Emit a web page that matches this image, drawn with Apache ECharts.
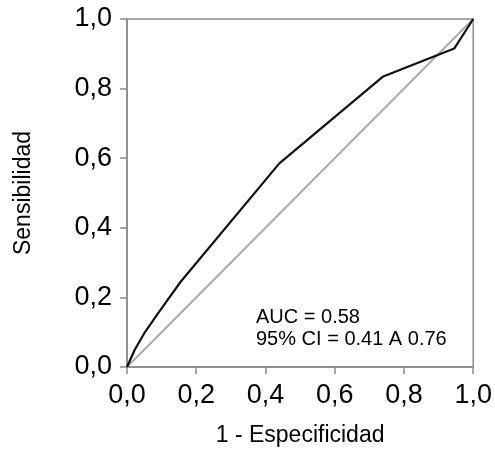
<!DOCTYPE html>
<html>
<head>
<meta charset="utf-8">
<script src="https://cdn.jsdelivr.net/npm/echarts@6/dist/echarts.min.js"></script>
<style>
  html, body { margin: 0; padding: 0; background: #fff; }
  #rocChart { width: 495px; height: 453px; }
</style>
</head>
<body>
<div id="rocChart"></div>
<script>
// curva ROC (1 - especificidad, sensibilidad)
const rocX = [0, 0.022, 0.05, 0.09, 0.155, 0.44, 0.74, 0.945, 1];
const rocY = [0, 0.049, 0.097, 0.155, 0.245, 0.585, 0.835, 0.915, 1];
// linea de referencia
const refX = [0, 1];
const refY = [0, 1];
const aucLines = ['AUC = 0.58', '95% CI = 0.41 A 0.76'];

const chart = echarts.init(document.getElementById('rocChart'));
const fmt = v => v.toFixed(1).replace('.', ',');
const axisGray = '#8a8a8a';
const font = 'Liberation Sans, Arial, sans-serif';

const option = {
  animation: false,
  grid: {
    left: 127, right: 21, top: 19, bottom: 86,
    show: true, borderColor: axisGray, borderWidth: 1.5
  },
  xAxis: {
    type: 'value', min: 0, max: 1, interval: 0.2,
    name: '1 - Especificidad', nameLocation: 'middle', nameGap: 57,
    nameTextStyle: { fontSize: 23, color: '#000', fontFamily: font },
    axisLine: { lineStyle: { color: axisGray, width: 1.5 } },
    axisTick: { show: true, length: 7, lineStyle: { color: axisGray, width: 1.5 } },
    axisLabel: { formatter: fmt, fontSize: 27, color: '#000', fontFamily: font, margin: 15 },
    splitLine: { show: false }
  },
  yAxis: {
    type: 'value', min: 0, max: 1, interval: 0.2,
    name: 'Sensibilidad', nameLocation: 'middle', nameGap: 92,
    nameTextStyle: { fontSize: 23, color: '#000', fontFamily: font },
    axisLine: { lineStyle: { color: axisGray, width: 1.5 } },
    axisTick: { show: true, length: 7, lineStyle: { color: axisGray, width: 1.5 } },
    axisLabel: { formatter: fmt, fontSize: 27, color: '#000', fontFamily: font, margin: 15 },
    splitLine: { show: false }
  },
  graphic: [{
    type: 'text', left: 256, top: 306,
    style: { text: aucLines.join('\n'), font: '20px ' + font, fill: '#000', lineHeight: 22 }
  }],
  series: [
    {
      type: 'line', data: refX.map((x, i) => [x, refY[i]]),
      symbol: 'none', lineStyle: { color: '#aaaaaa', width: 2 }
    },
    {
      type: 'line', data: rocX.map((x, i) => [x, rocY[i]]),
      symbol: 'none', lineStyle: { color: '#111', width: 2.2 }
    }
  ]
};
chart.setOption(option);
</script>
</body>
</html>
